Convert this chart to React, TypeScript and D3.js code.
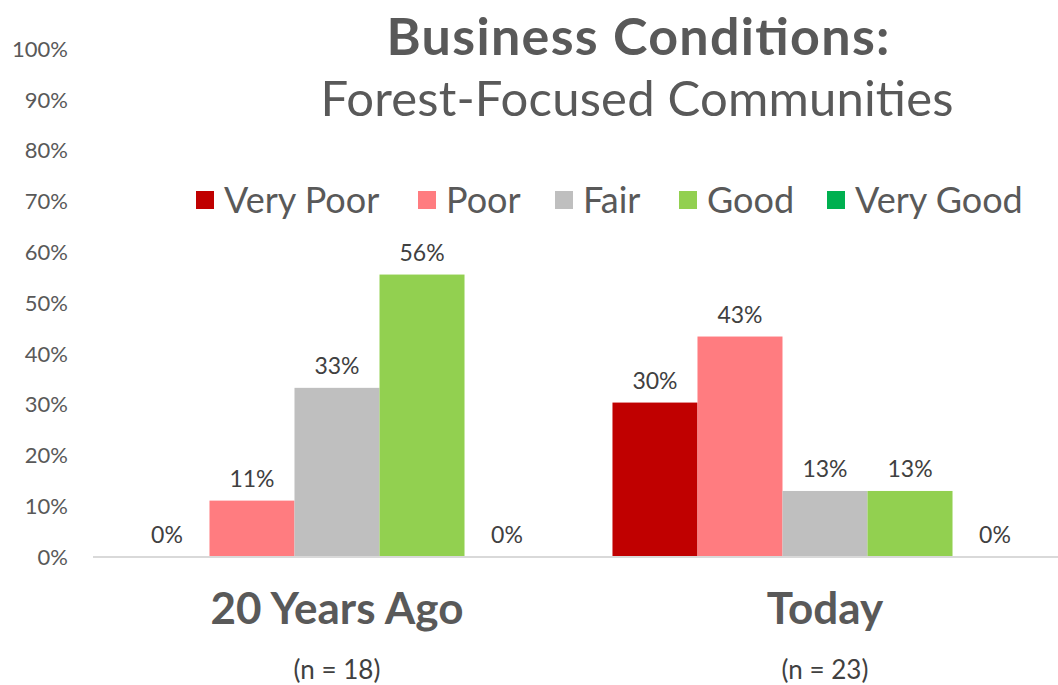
import * as d3 from "d3";

const categories = ["20 Years Ago", "Today"];
const sampleSizes = ["(n = 18)", "(n = 23)"];
const ratings = ["Very Poor", "Poor", "Fair", "Good", "Very Good"];
const colors = ["#c00000", "#ff7c80", "#bfbfbf", "#92d050", "#00b050"];
const yearsAgo = [0, 11.1, 33.3, 55.6, 0];
const today = [30.4, 43.4, 13.0, 13.0, 0];
const yTicks = [0, 10, 20, 30, 40, 50, 60, 70, 80, 90, 100];

const W = 1058;
const H = 685;
const FONT = "Lato, 'Open Sans', sans-serif";
const GREY = "#595959";

export default function App() {
  const x0 = d3.scaleBand().domain(categories).range([93, 1069]).paddingInner(0.129).paddingOuter(0.0645);
  const x1 = d3.scaleBand().domain(ratings).range([0, x0.bandwidth()]);
  const y = d3.scaleLinear().domain([0, 100]).range([557, 49]);
  const series = [yearsAgo, today];

  const legendX = [196, 418, 555, 679, 827];

  return (
    <svg width={W} height={H} style={{ position: "absolute", left: 0, top: 0, fontFamily: FONT }}>
      <text x={638} y={55} textAnchor="middle" fontSize={52} fontWeight={700} fill={GREY} textLength={503}>
        Business Conditions:
      </text>
      <text x={637} y={116} textAnchor="middle" fontSize={49} fill={GREY} textLength={633}>
        Forest-Focused Communities
      </text>

      {yTicks.map((t) => (
        <text key={t} x={68} y={y(t)} dy="0.35em" textAnchor="end" fontSize={22} fill={GREY}>
          {t}%
        </text>
      ))}

      {ratings.map((r, i) => (
        <g key={r}>
          <rect x={legendX[i]} y={191} width={18} height={18} fill={colors[i]} />
          <text x={legendX[i] + 28} y={200} dy="0.36em" fontSize={36} fill={GREY}>
            {r}
          </text>
        </g>
      ))}

      {categories.map((c, ci) => (
        <g key={c} transform={`translate(${x0(c)},0)`}>
          {ratings.map((r, i) => {
            const v = series[ci][i];
            return (
              <g key={r}>
                <rect x={x1(r)} y={y(v)} width={x1.bandwidth()} height={y(0) - y(v)} fill={colors[i]} />
                <text
                  x={(x1(r) as number) + x1.bandwidth() / 2}
                  y={y(v) - 14}
                  textAnchor="middle"
                  fontSize={23}
                  fill="#404040"
                >
                  {Math.round(v)}%
                </text>
              </g>
            );
          })}
          <text x={x0.bandwidth() / 2} y={624} textAnchor="middle" fontSize={44} fontWeight={700} fill={GREY}>
            {c}
          </text>
          <text x={x0.bandwidth() / 2} y={679} textAnchor="middle" fontSize={26} fill="#404040">
            {sampleSizes[ci]}
          </text>
        </g>
      ))}

      <line x1={93} x2={W} y1={y(0)} y2={y(0)} stroke="#d9d9d9" strokeWidth={2} />
    </svg>
  );
}
